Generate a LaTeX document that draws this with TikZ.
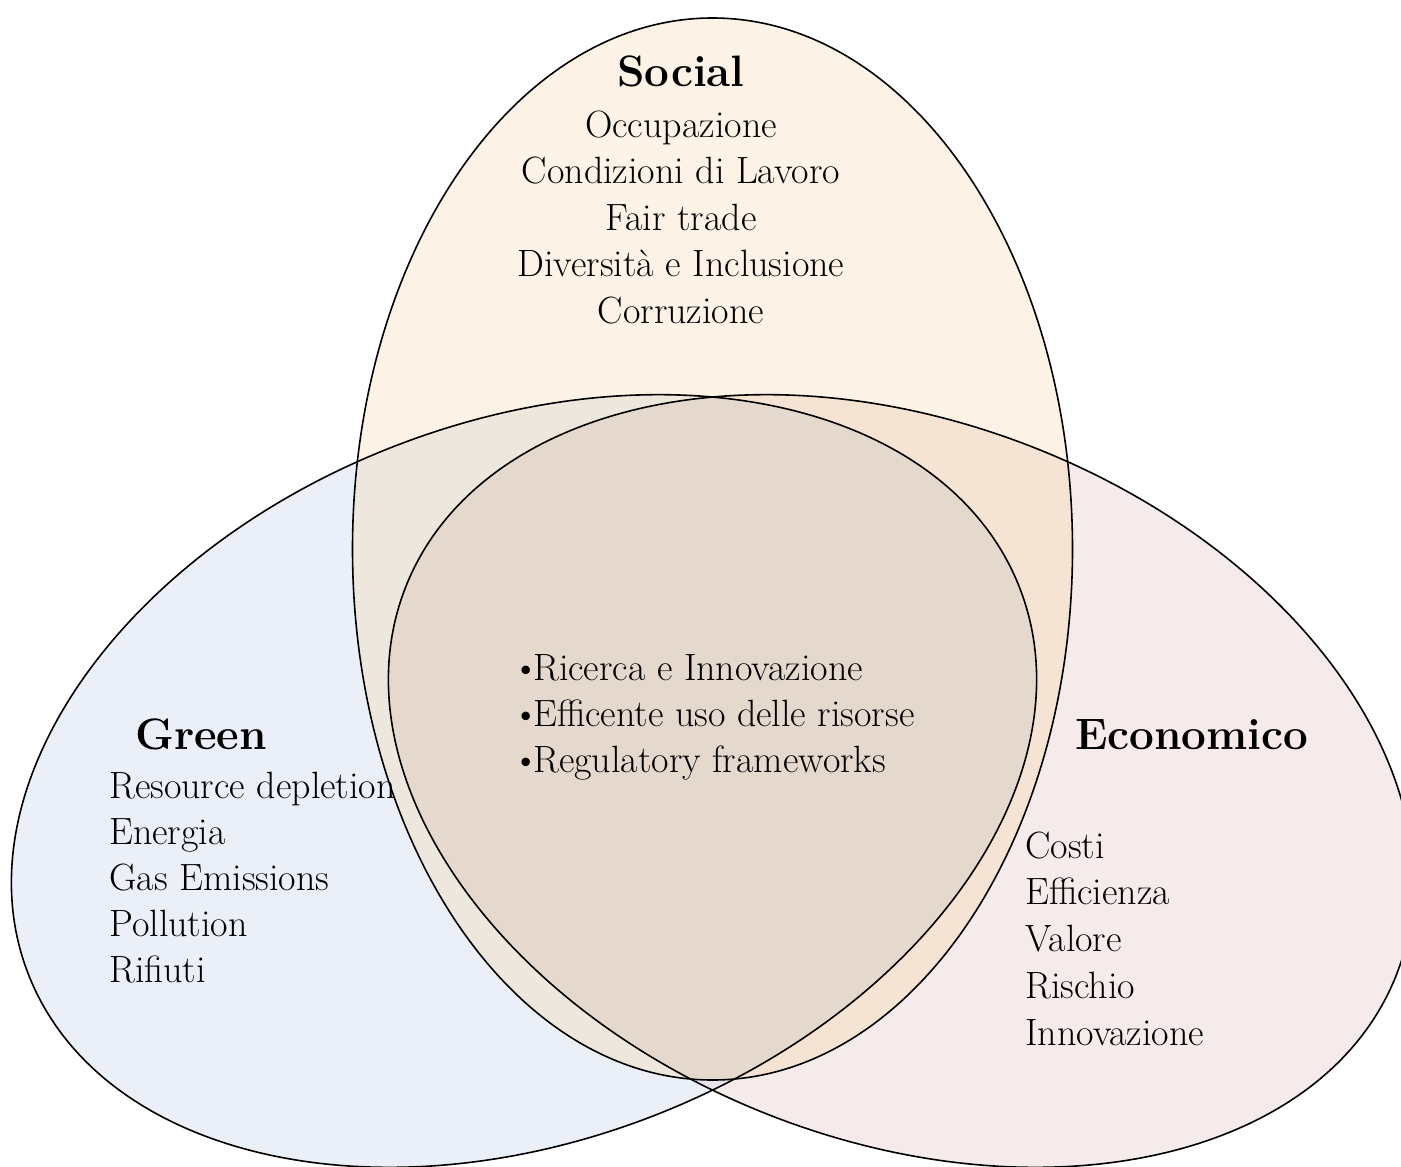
\documentclass[tikz,border=0pt]{standalone}
\usepackage{fontspec}
\definecolor{cS}{HTML}{FDF2E6}
\definecolor{cG}{HTML}{EBF0F8}
\definecolor{cE}{HTML}{F6EBEB}
\definecolor{cSG}{HTML}{EEE7DE}
\definecolor{cSE}{HTML}{F5E4D4}
\definecolor{cGE}{HTML}{E8E3EA}
\definecolor{cSGE}{HTML}{E5D8CD}
\begin{document}
\begin{tikzpicture}[x=1pt,y=1pt,
  item/.style={inner sep=0pt, font=\fontsize{38}{44}\selectfont},
  ttl/.style={inner sep=0pt, font=\fontsize{44}{50}\selectfont\bfseries},
  outl/.style={draw=black, line width=1.6pt},
  gsh/.style={rotate around={21.3:(524,-781)}},
  esh/.style={rotate around={-21.3:(901,-781)}}]
\useasboundingbox (0,0) rectangle (1401,-1167);
\clip (0,0) rectangle (1401,-1167);
% base fills
\fill[cG, gsh] (524,-781) ellipse (532 and 359);
\fill[cE, esh] (901,-781) ellipse (532 and 359);
\fill[cS] (712.5,-549) ellipse (360 and 531);
% Green & Econ
\begin{scope}
  \clip[gsh] (524,-781) ellipse (532 and 359);
  \fill[cGE, esh] (901,-781) ellipse (532 and 359);
\end{scope}
% Social & Green
\begin{scope}
  \clip (712.5,-549) ellipse (360 and 531);
  \fill[cSG, gsh] (524,-781) ellipse (532 and 359);
\end{scope}
% Social & Econ
\begin{scope}
  \clip (712.5,-549) ellipse (360 and 531);
  \fill[cSE, esh] (901,-781) ellipse (532 and 359);
\end{scope}
% all three
\begin{scope}
  \clip (712.5,-549) ellipse (360 and 531);
  \clip[gsh] (524,-781) ellipse (532 and 359);
  \fill[cSGE, esh] (901,-781) ellipse (532 and 359);
\end{scope}
% outlines
\draw[outl, gsh] (524,-781) ellipse (532 and 359);
\draw[outl, esh] (901,-781) ellipse (532 and 359);
\draw[outl] (712.5,-549) ellipse (360 and 531);
% Social texts
\node[ttl, anchor=base] (socT) at (681,-86) {Social};
\node[item, anchor=base] (s1) at (681,-137) {Occupazione};
\node[item, anchor=base] (s2) at (681,-183.5) {Condizioni di Lavoro};
\node[item, anchor=base] (s3) at (681,-230) {Fair trade};
\node[item, anchor=base] (s4) at (681,-276.5) {Diversità e Inclusione};
\node[item, anchor=base] (s5) at (681,-323) {Corruzione};
% Green texts
\node[ttl, anchor=base west] (grT) at (135,-749) {Green};
\node[item, anchor=base west] (g1) at (109,-798) {Resource depletion};
\node[item, anchor=base west] (g2) at (109,-844) {Energia};
\node[item, anchor=base west] (g3) at (109,-890) {Gas Emissions};
\node[item, anchor=base west] (g4) at (109,-936) {Pollution};
\node[item, anchor=base west] (g5) at (109,-982) {Rifiuti};
% Economico texts
\node[ttl, anchor=base west] (ecT) at (1075,-749) {Economico};
\node[item, anchor=base west] (e1) at (1025,-858) {Costi};
\node[item, anchor=base west] (e2) at (1025,-904.75) {Efficienza};
\node[item, anchor=base west] (e3) at (1025,-951.5) {Valore};
\node[item, anchor=base west] (e4) at (1025,-998.25) {Rischio};
\node[item, anchor=base west] (e5) at (1025,-1045) {Innovazione};
% centre
\node[item, anchor=base west] (c1) at (512,-680) {\makebox[21pt][l]{\textbullet}Ricerca e Innovazione};
\node[item, anchor=base west] (c2) at (512,-726) {\makebox[21pt][l]{\textbullet}Efficente uso delle risorse};
\node[item, anchor=base west] (c3) at (512,-772) {\makebox[21pt][l]{\textbullet}Regulatory frameworks};
\end{tikzpicture}
\end{document}
